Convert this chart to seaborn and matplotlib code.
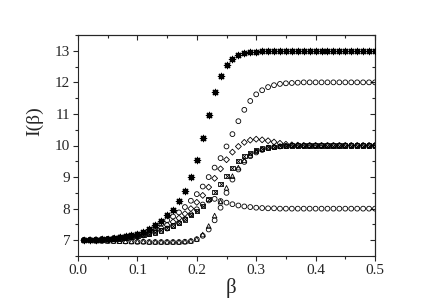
import matplotlib
matplotlib.use("Agg")
import matplotlib.pyplot as plt
import seaborn as sns
from matplotlib.ticker import MultipleLocator

# beta grid, 0.01 .. 0.50
beta = [i / 100 for i in range(1, 51)]

# asterisks, 7 -> 13
star_13 = [7.00, 7.01, 7.02, 7.03, 7.05, 7.07, 7.09, 7.12, 7.16, 7.21,
           7.27, 7.35, 7.48, 7.62, 7.79, 7.97, 8.23, 8.56, 9.00, 9.54,
           10.23, 10.98, 11.70, 12.20, 12.55, 12.74, 12.86, 12.92, 12.95, 12.97,
           12.98, 12.99, 13.0, 13.0, 13.0, 13.0, 13.0, 13.0, 13.0, 13.0,
           13.0, 13.0, 13.0, 13.0, 13.0, 13.0, 13.0, 13.0, 13.0, 13.0]

# open circles, 7 -> 12
circ_12 = [7.00, 7.01, 7.02, 7.03, 7.04, 7.06, 7.08, 7.11, 7.14, 7.18,
           7.23, 7.30, 7.40, 7.52, 7.63, 7.75, 7.88, 8.05, 8.25, 8.46,
           8.70, 9.00, 9.30, 9.60, 9.97, 10.36, 10.77, 11.13, 11.41, 11.62,
           11.75, 11.85, 11.91, 11.95, 11.97, 11.98, 11.99, 12.0, 12.0, 12.0,
           12.0, 12.0, 12.0, 12.0, 12.0, 12.0, 12.0, 12.0, 12.0, 12.0]

# diamonds, overshoot then 10
diam_10 = [7.00, 7.01, 7.01, 7.02, 7.03, 7.05, 7.07, 7.09, 7.12, 7.15,
           7.19, 7.24, 7.31, 7.39, 7.48, 7.58, 7.70, 7.84, 8.00, 8.20,
           8.42, 8.68, 8.96, 9.26, 9.55, 9.79, 9.97, 10.10, 10.17, 10.20,
           10.18, 10.15, 10.11, 10.07, 10.04, 10.02, 10.01, 10.0, 10.0, 10.0,
           10.0, 10.0, 10.0, 10.0, 10.0, 10.0, 10.0, 10.0, 10.0, 10.0]

# crossed squares, 7 -> 10
sq_10 = [7.00, 7.01, 7.01, 7.02, 7.03, 7.04, 7.06, 7.08, 7.10, 7.13,
         7.16, 7.20, 7.25, 7.31, 7.38, 7.46, 7.55, 7.66, 7.79, 7.93,
         8.08, 8.30, 8.53, 8.78, 9.03, 9.29, 9.50, 9.66, 9.77, 9.85,
         9.90, 9.94, 9.96, 9.98, 9.99, 10.0, 10.0, 10.0, 10.0, 10.0,
         10.0, 10.0, 10.0, 10.0, 10.0, 10.0, 10.0, 10.0, 10.0, 10.0]

# open circles, peak then 8
circ_8 = [7.00, 7.00, 7.01, 7.02, 7.03, 7.04, 7.05, 7.07, 7.09, 7.12,
          7.15, 7.19, 7.24, 7.30, 7.37, 7.45, 7.55, 7.67, 7.82, 7.98,
          8.13, 8.26, 8.31, 8.24, 8.19, 8.14, 8.10, 8.07, 8.05, 8.03,
          8.02, 8.01, 8.01, 8.0, 8.0, 8.0, 8.0, 8.0, 8.0, 8.0,
          8.0, 8.0, 8.0, 8.0, 8.0, 8.0, 8.0, 8.0, 8.0, 8.0]

# triangles, dip then 10
tri_10 = [7.00, 7.00, 6.99, 6.99, 6.98, 6.98, 6.97, 6.97, 6.96, 6.96,
          6.96, 6.95, 6.95, 6.95, 6.95, 6.95, 6.95, 6.96, 6.98, 7.04,
          7.18, 7.45, 7.78, 8.22, 8.66, 9.03, 9.30, 9.53, 9.70, 9.82,
          9.89, 9.94, 9.97, 9.98, 9.99, 10.0, 10.0, 10.0, 10.0, 10.0,
          10.0, 10.0, 10.0, 10.0, 10.0, 10.0, 10.0, 10.0, 10.0, 10.0]

# open circles, dip then 10
circ_dip = [7.00, 7.00, 6.99, 6.98, 6.98, 6.97, 6.97, 6.96, 6.96, 6.95,
            6.95, 6.94, 6.94, 6.94, 6.94, 6.94, 6.94, 6.95, 6.97, 7.03,
            7.14, 7.34, 7.63, 8.03, 8.50, 8.92, 9.24, 9.48, 9.66, 9.78,
            9.86, 9.92, 9.95, 9.97, 9.99, 10.0, 10.0, 10.0, 10.0, 10.0,
            10.0, 10.0, 10.0, 10.0, 10.0, 10.0, 10.0, 10.0, 10.0, 10.0]

sns.set_style("ticks")
plt.rcParams["font.family"] = ["Liberation Serif", "DejaVu Serif"]

fig = plt.figure(figsize=(4.36, 3.08), dpi=100)
ax = fig.add_axes([78 / 436, 52 / 308, 297 / 436, 221 / 308])

open_kw = dict(facecolor="none", edgecolor="black", linewidth=0.6, ax=ax, zorder=3)
sns.scatterplot(x=beta, y=circ_12, marker="o", s=12, **open_kw)
sns.scatterplot(x=beta, y=circ_8, marker="o", s=12, **open_kw)
sns.scatterplot(x=beta, y=circ_dip, marker="o", s=12, **open_kw)
sns.scatterplot(x=beta, y=diam_10, marker="D", s=9, **open_kw)
sns.scatterplot(x=beta, y=tri_10, marker="^", s=11, **open_kw)
sns.scatterplot(x=beta, y=sq_10, marker="s", s=10, **open_kw)
sns.scatterplot(x=beta, y=sq_10, marker="x", s=8, color="black", linewidth=0.6, ax=ax, zorder=3)
sns.scatterplot(x=beta, y=star_13, marker=(8, 2, 0), s=20, color="black", linewidth=0.9, ax=ax, zorder=3)

ax.set_xlim(0, 0.5)
ax.set_ylim(6.5, 13.5)
ax.xaxis.set_major_locator(MultipleLocator(0.1))
ax.xaxis.set_minor_locator(MultipleLocator(0.05))
ax.yaxis.set_major_locator(MultipleLocator(1))
ax.yaxis.set_minor_locator(MultipleLocator(0.5))
ax.xaxis.set_major_formatter(matplotlib.ticker.FormatStrFormatter("%.1f"))

for s in ax.spines.values():
    s.set_visible(True)
    s.set_linewidth(0.8)
ax.tick_params(which="both", direction="out", width=0.8, labelsize=11, pad=2)
ax.tick_params(which="major", length=3.5)
ax.tick_params(which="minor", length=2)

# mirrored ticks pointing inward on top and right
top = ax.secondary_xaxis("top")
top.xaxis.set_major_locator(MultipleLocator(0.1))
top.xaxis.set_minor_locator(MultipleLocator(0.05))
top.tick_params(which="both", direction="in", width=0.8, labeltop=False)
top.tick_params(which="major", length=3.5)
top.tick_params(which="minor", length=2)
right = ax.secondary_yaxis("right")
right.yaxis.set_major_locator(MultipleLocator(1))
right.yaxis.set_minor_locator(MultipleLocator(0.5))
right.tick_params(which="both", direction="in", width=0.8, labelright=False)
right.tick_params(which="major", length=3.5)
right.tick_params(which="minor", length=2)

ax.set_xlabel("β", fontsize=15)
ax.set_ylabel("I(β)", fontsize=14)
ax.xaxis.set_label_coords(0.514, -0.145)
ax.xaxis.label.set_va("center")
ax.yaxis.set_label_coords(-0.145, 0.61)
ax.yaxis.label.set_va("center")

fig.savefig("out.png", dpi=100)
